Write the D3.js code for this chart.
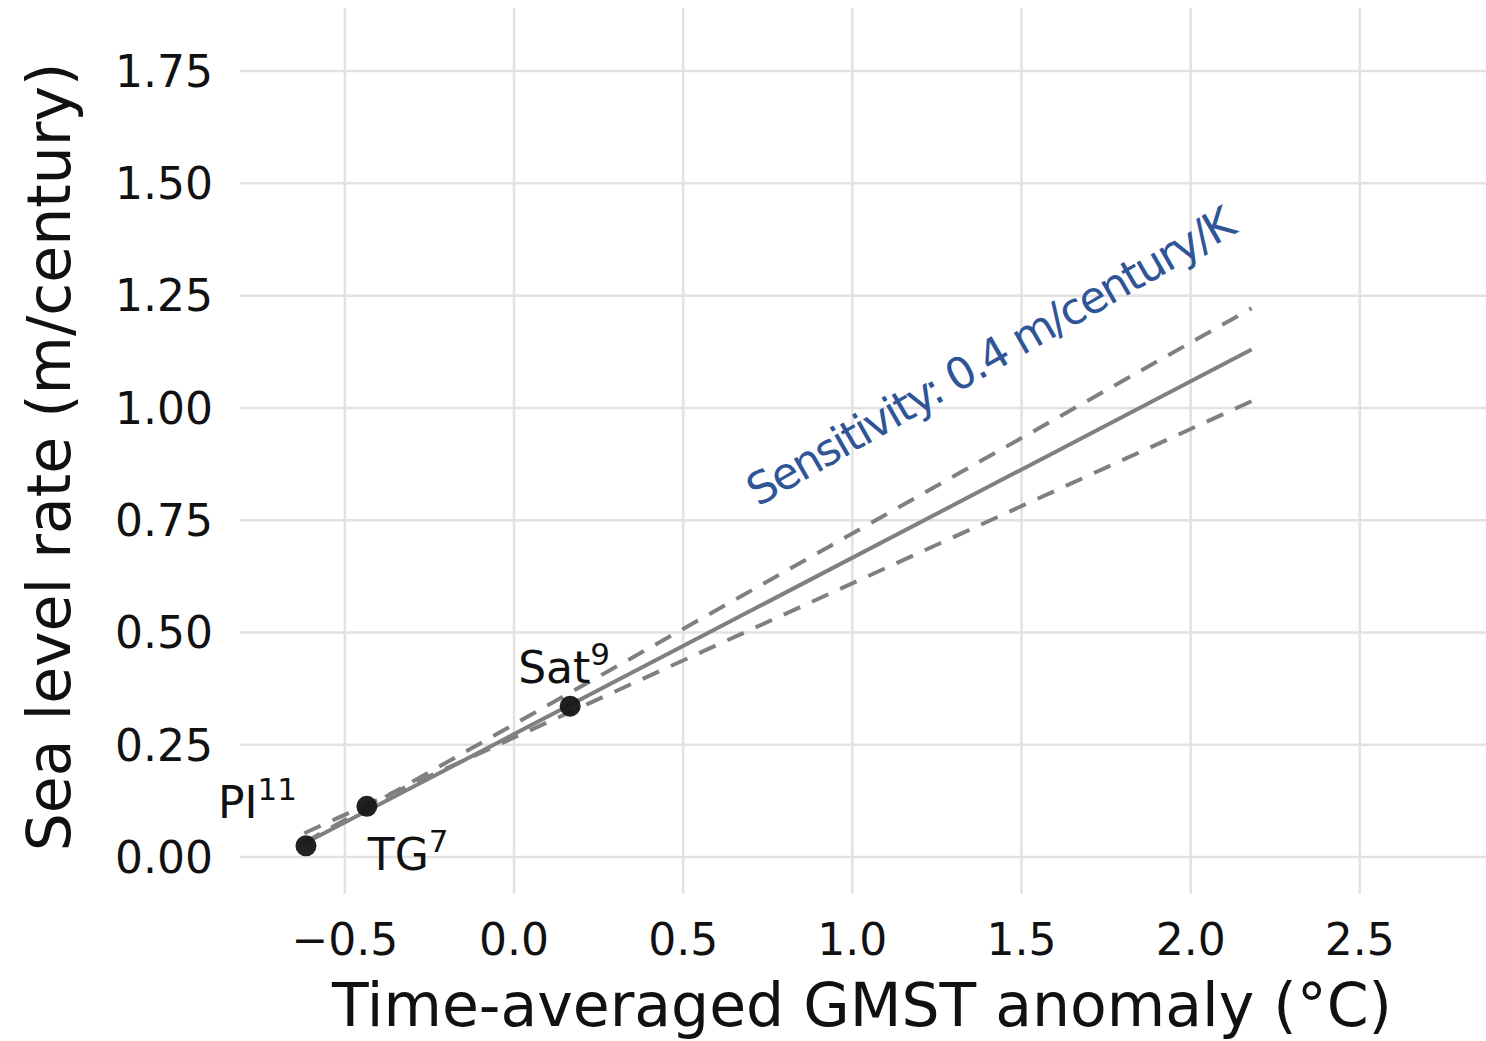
<!DOCTYPE html>
<html>
<head>
<meta charset="utf-8">
<script src="https://cdn.jsdelivr.net/npm/d3@7"></script>
<style>
  body { margin: 0; background: #fff; }
  text { font-family: "DejaVu Sans", sans-serif; fill: #111; }
</style>
</head>
<body>
<div id="chart"></div>
<script>
// observations
var labels = ["PI", "TG", "Sat"];
var labelSup = ["11", "7", "9"];
var gmst = [-0.615, -0.435, 0.166];
var rate = [0.025, 0.113, 0.336];

// fitted sensitivity line and its range (end points)
var fitX = [-0.62, 2.18];
var fitMid = [0.03, 1.13];
var fitUpper = [0.032, 1.222];
var fitLower = [0.053, 1.015];

var xTicks = [-0.5, 0.0, 0.5, 1.0, 1.5, 2.0, 2.5];
var yTicks = [0.00, 0.25, 0.50, 0.75, 1.00, 1.25, 1.50, 1.75];

var width = 1486, height = 1041;

var x = d3.scaleLinear().domain([-0.81, 2.873]).range([240, 1486]);
var y = d3.scaleLinear().domain([-0.08, 1.886]).range([893, 10]);

var svg = d3.select("#chart").append("svg")
  .attr("width", width)
  .attr("height", height);

svg.append("rect").attr("width", width).attr("height", height).attr("fill", "#fff");

// grid
var grid = svg.append("g");
grid.selectAll(".hg")
  .data(yTicks)
  .enter().append("line")
  .attr("x1", 240).attr("x2", 1486)
  .attr("y1", d => y(d)).attr("y2", d => y(d))
  .attr("stroke", "#e2e2e2").attr("stroke-width", 2.5);
grid.selectAll(".vg")
  .data(xTicks)
  .enter().append("line")
  .attr("x1", d => x(d)).attr("x2", d => x(d))
  .attr("y1", 8).attr("y2", 894)
  .attr("stroke", "#e2e2e2").attr("stroke-width", 2.5);

// tick labels
svg.append("g").selectAll("text")
  .data(yTicks)
  .enter().append("text")
  .attr("x", 213)
  .attr("y", d => y(d))
  .attr("dy", "0.36em")
  .attr("text-anchor", "end")
  .attr("font-size", 44)
  .text(d => d3.format(".2f")(d));

svg.append("g").selectAll("text")
  .data(xTicks)
  .enter().append("text")
  .attr("x", d => x(d))
  .attr("y", 955)
  .attr("text-anchor", "middle")
  .attr("font-size", 44)
  .text(d => d3.format(".1f")(d).replace("-", "\u2212"));

// axis titles
svg.append("text")
  .attr("x", 862).attr("y", 1026)
  .attr("text-anchor", "middle")
  .attr("font-size", 60)
  .text("Time-averaged GMST anomaly (\u00b0C)");

svg.append("text")
  .attr("transform", "translate(70,457) rotate(-90)")
  .attr("text-anchor", "middle")
  .attr("font-size", 60)
  .text("Sea level rate (m/century)");

// fit lines
var line = d3.line().x(d => x(d[0])).y(d => y(d[1]));
var fits = [
  {vals: fitUpper, dash: "18,13"},
  {vals: fitLower, dash: "18,13"},
  {vals: fitMid, dash: null}
];
svg.append("g").selectAll("path")
  .data(fits)
  .enter().append("path")
  .attr("d", d => line(fitX.map((v, i) => [v, d.vals[i]])))
  .attr("fill", "none")
  .attr("stroke", "#808080")
  .attr("stroke-width", 4)
  .attr("stroke-dasharray", d => d.dash);

// points
svg.append("g").selectAll("circle")
  .data(gmst)
  .enter().append("circle")
  .attr("cx", d => x(d))
  .attr("cy", (d, i) => y(rate[i]))
  .attr("r", 10.5)
  .attr("fill", "#151515")
  .attr("fill-opacity", 0.95);

// point labels
var labelOffset = [[-88, -28], [1, 64], [-52, -23]];
var pl = svg.append("g").selectAll("text")
  .data(labels)
  .enter().append("text")
  .attr("x", (d, i) => x(gmst[i]) + labelOffset[i][0])
  .attr("y", (d, i) => y(rate[i]) + labelOffset[i][1])
  .attr("font-size", 44);
pl.append("tspan").text(d => d);
pl.append("tspan")
  .attr("dy", -18)
  .attr("font-size", 31)
  .text((d, i) => labelSup[i]);

// annotation
var annText = "Sensitivity: 0.4 m/century/K";
var ann = svg.append("text")
  .attr("transform", "translate(758,507) rotate(-29.8)")
  .attr("font-family", "Lato, sans-serif")
  .attr("font-size", 44)
  .style("fill", "#2f5597")
  .text(annText);
var len = ann.node().getComputedTextLength();
ann.attr("letter-spacing", (552 - len) / annText.length);
</script>
</body>
</html>
